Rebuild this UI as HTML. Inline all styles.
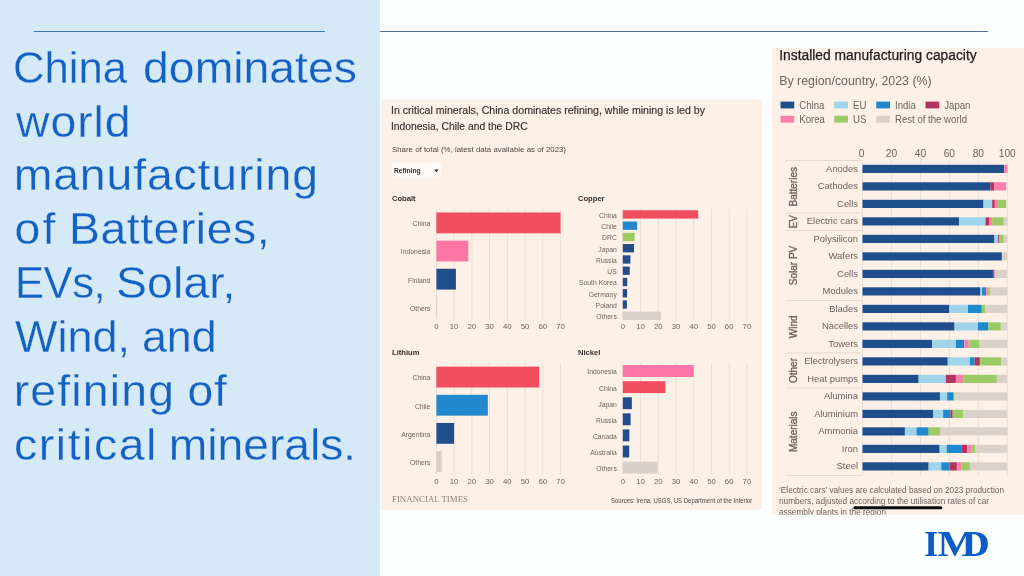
<!DOCTYPE html>
<html lang="en"><head><meta charset="utf-8"><title>China dominates world manufacturing</title>
<style>html,body{margin:0;padding:0;background:#fbfeff;}body{width:1024px;height:576px;overflow:hidden;}svg{display:block;font-family:"Liberation Sans", sans-serif;}.t{fill:#1361c3;font-size:45px;stroke:#d6e9f7;stroke-width:0.3px;}.g{fill:#6b6460;}.d{fill:#33302e;}</style></head><body>
<svg width="1024" height="576" viewBox="0 0 1024 576">
<rect x="0" y="0" width="1024" height="576" fill="#fbfeff"/>
<rect x="0" y="0" width="380" height="576" fill="#d6e9f7"/>
<rect x="34" y="31" width="291" height="1" fill="#3b79b9"/>
<rect x="380" y="31" width="608" height="1" fill="#4f7296"/>
<text class="t" transform="translate(13.06 82.75) scale(0.9704 1)" letter-spacing="0.000">China</text>
<text class="t" transform="translate(143.07 82.75) scale(1.0300 1)" letter-spacing="0.015">dominates</text>
<text class="t" transform="translate(16.03 136.61) scale(1.0300 1)" letter-spacing="0.946">world</text>
<text class="t" transform="translate(13.69 190.47) scale(1.0300 1)" letter-spacing="0.864">manufacturing</text>
<text class="t" transform="translate(14.57 244.33) scale(1.0300 1)" letter-spacing="2.099">of</text>
<text class="t" transform="translate(69.11 244.33) scale(1.0300 1)" letter-spacing="0.508">Batteries,</text>
<text class="t" transform="translate(14.89 298.19) scale(0.9700 1)" letter-spacing="-0.506">EVs,</text>
<text class="t" transform="translate(116.04 298.19) scale(1.0300 1)" letter-spacing="0.145">Solar,</text>
<text class="t" transform="translate(15.00 352.05) scale(1.0007 1)" letter-spacing="0.000">Wind,</text>
<text class="t" transform="translate(141.90 352.05) scale(0.9965 1)" letter-spacing="0.000">and</text>
<text class="t" transform="translate(13.69 405.91) scale(1.0300 1)" letter-spacing="1.162">refining</text>
<text class="t" transform="translate(187.47 405.91) scale(1.0300 1)" letter-spacing="0.837">of</text>
<text class="t" transform="translate(13.97 459.77) scale(1.0300 1)" letter-spacing="1.551">critical</text>
<text class="t" transform="translate(168.85 459.77) scale(1.0257 1)" letter-spacing="0.000">minerals.</text>
<rect x="381.3" y="99.5" width="380.7" height="410.4" fill="#fdf0e6"/>
<text class="d" stroke="#33302e" stroke-width="0.15" x="391" y="113.8" font-size="10.6" textLength="314" lengthAdjust="spacingAndGlyphs">In critical minerals, China dominates refining, while mining is led by</text>
<text class="d" stroke="#33302e" stroke-width="0.15" x="391" y="130.0" font-size="10.6" textLength="136.6" lengthAdjust="spacingAndGlyphs">Indonesia, Chile and the DRC</text>
<text x="392" y="151.9" fill="#4d4844" font-size="7.6" textLength="174" lengthAdjust="spacingAndGlyphs">Share of total (%, latest data available as of 2023)</text>
<rect x="392" y="163.2" width="49.2" height="15" fill="#fffaf6"/>
<text class="d" x="394" y="173.2" font-size="7" font-weight="bold" textLength="26.5" lengthAdjust="spacingAndGlyphs">Refining</text>
<path d="M434.2 169.6h4.4l-2.2 2.6z" fill="#262321"/>
<text class="d" x="392.0" y="200.5" font-size="7.6" font-weight="bold">Cobalt</text>
<rect x="436.05" y="208.80" width="0.7" height="111.60" fill="#e2d8d0"/>
<text class="g" x="436.40" y="329.30" font-size="7.8" text-anchor="middle">0</text>
<rect x="453.78" y="208.80" width="0.7" height="111.60" fill="#e2d8d0"/>
<text class="g" x="454.13" y="329.30" font-size="7.8" text-anchor="middle">10</text>
<rect x="471.52" y="208.80" width="0.7" height="111.60" fill="#e2d8d0"/>
<text class="g" x="471.87" y="329.30" font-size="7.8" text-anchor="middle">20</text>
<rect x="489.25" y="208.80" width="0.7" height="111.60" fill="#e2d8d0"/>
<text class="g" x="489.60" y="329.30" font-size="7.8" text-anchor="middle">30</text>
<rect x="506.99" y="208.80" width="0.7" height="111.60" fill="#e2d8d0"/>
<text class="g" x="507.34" y="329.30" font-size="7.8" text-anchor="middle">40</text>
<rect x="524.72" y="208.80" width="0.7" height="111.60" fill="#e2d8d0"/>
<text class="g" x="525.07" y="329.30" font-size="7.8" text-anchor="middle">50</text>
<rect x="542.46" y="208.80" width="0.7" height="111.60" fill="#e2d8d0"/>
<text class="g" x="542.81" y="329.30" font-size="7.8" text-anchor="middle">60</text>
<rect x="560.19" y="208.80" width="0.7" height="111.60" fill="#e2d8d0"/>
<text class="g" x="560.54" y="329.30" font-size="7.8" text-anchor="middle">70</text>
<rect x="436.40" y="212.46" width="124.15" height="20.83" fill="#f04e5e"/>
<text class="g" transform="translate(430.40 226.28) scale(0.92 1)" font-size="7.4" text-anchor="end">China</text>
<rect x="436.40" y="240.61" width="31.92" height="20.83" fill="#fb76a4"/>
<text class="g" transform="translate(430.40 254.43) scale(0.92 1)" font-size="7.4" text-anchor="end">Indonesia</text>
<rect x="436.40" y="268.76" width="19.51" height="20.83" fill="#1f4e8a"/>
<text class="g" transform="translate(430.40 282.57) scale(0.92 1)" font-size="7.4" text-anchor="end">Finland</text>
<rect x="436.40" y="296.91" width="0.89" height="20.83" fill="#d9d0c9"/>
<text class="g" transform="translate(430.40 310.72) scale(0.92 1)" font-size="7.4" text-anchor="end">Others</text>
<text class="d" x="578.0" y="200.5" font-size="7.6" font-weight="bold">Copper</text>
<rect x="622.45" y="208.80" width="0.7" height="111.60" fill="#e2d8d0"/>
<text class="g" x="622.80" y="329.30" font-size="7.8" text-anchor="middle">0</text>
<rect x="640.18" y="208.80" width="0.7" height="111.60" fill="#e2d8d0"/>
<text class="g" x="640.53" y="329.30" font-size="7.8" text-anchor="middle">10</text>
<rect x="657.92" y="208.80" width="0.7" height="111.60" fill="#e2d8d0"/>
<text class="g" x="658.27" y="329.30" font-size="7.8" text-anchor="middle">20</text>
<rect x="675.65" y="208.80" width="0.7" height="111.60" fill="#e2d8d0"/>
<text class="g" x="676.00" y="329.30" font-size="7.8" text-anchor="middle">30</text>
<rect x="693.39" y="208.80" width="0.7" height="111.60" fill="#e2d8d0"/>
<text class="g" x="693.74" y="329.30" font-size="7.8" text-anchor="middle">40</text>
<rect x="711.12" y="208.80" width="0.7" height="111.60" fill="#e2d8d0"/>
<text class="g" x="711.47" y="329.30" font-size="7.8" text-anchor="middle">50</text>
<rect x="728.86" y="208.80" width="0.7" height="111.60" fill="#e2d8d0"/>
<text class="g" x="729.21" y="329.30" font-size="7.8" text-anchor="middle">60</text>
<rect x="746.59" y="208.80" width="0.7" height="111.60" fill="#e2d8d0"/>
<text class="g" x="746.94" y="329.30" font-size="7.8" text-anchor="middle">70</text>
<rect x="622.80" y="210.26" width="75.37" height="8.33" fill="#f04e5e"/>
<text class="g" transform="translate(616.80 217.83) scale(0.92 1)" font-size="7.4" text-anchor="end">China</text>
<rect x="622.80" y="221.52" width="14.37" height="8.33" fill="#2389cf"/>
<text class="g" transform="translate(616.80 229.09) scale(0.92 1)" font-size="7.4" text-anchor="end">Chile</text>
<rect x="622.80" y="232.78" width="11.88" height="8.33" fill="#9ccb66"/>
<text class="g" transform="translate(616.80 240.35) scale(0.92 1)" font-size="7.4" text-anchor="end">DRC</text>
<rect x="622.80" y="244.04" width="11.17" height="8.33" fill="#1f4e8a"/>
<text class="g" transform="translate(616.80 251.61) scale(0.92 1)" font-size="7.4" text-anchor="end">Japan</text>
<rect x="622.80" y="255.30" width="7.63" height="8.33" fill="#1f4e8a"/>
<text class="g" transform="translate(616.80 262.87) scale(0.92 1)" font-size="7.4" text-anchor="end">Russia</text>
<rect x="622.80" y="266.56" width="6.92" height="8.33" fill="#1f4e8a"/>
<text class="g" transform="translate(616.80 274.13) scale(0.92 1)" font-size="7.4" text-anchor="end">US</text>
<rect x="622.80" y="277.82" width="4.43" height="8.33" fill="#1f4e8a"/>
<text class="g" transform="translate(616.80 285.39) scale(0.92 1)" font-size="7.4" text-anchor="end">South Korea</text>
<rect x="622.80" y="289.08" width="4.26" height="8.33" fill="#1f4e8a"/>
<text class="g" transform="translate(616.80 296.65) scale(0.92 1)" font-size="7.4" text-anchor="end">Germany</text>
<rect x="622.80" y="300.34" width="4.08" height="8.33" fill="#1f4e8a"/>
<text class="g" transform="translate(616.80 307.91) scale(0.92 1)" font-size="7.4" text-anchor="end">Poland</text>
<rect x="622.80" y="311.60" width="38.13" height="8.33" fill="#d9d0c9"/>
<text class="g" transform="translate(616.80 319.17) scale(0.92 1)" font-size="7.4" text-anchor="end">Others</text>
<text class="d" x="392.0" y="355.0" font-size="7.6" font-weight="bold">Lithium</text>
<rect x="436.05" y="363.00" width="0.7" height="111.60" fill="#e2d8d0"/>
<text class="g" x="436.40" y="483.50" font-size="7.8" text-anchor="middle">0</text>
<rect x="453.78" y="363.00" width="0.7" height="111.60" fill="#e2d8d0"/>
<text class="g" x="454.13" y="483.50" font-size="7.8" text-anchor="middle">10</text>
<rect x="471.52" y="363.00" width="0.7" height="111.60" fill="#e2d8d0"/>
<text class="g" x="471.87" y="483.50" font-size="7.8" text-anchor="middle">20</text>
<rect x="489.25" y="363.00" width="0.7" height="111.60" fill="#e2d8d0"/>
<text class="g" x="489.60" y="483.50" font-size="7.8" text-anchor="middle">30</text>
<rect x="506.99" y="363.00" width="0.7" height="111.60" fill="#e2d8d0"/>
<text class="g" x="507.34" y="483.50" font-size="7.8" text-anchor="middle">40</text>
<rect x="524.72" y="363.00" width="0.7" height="111.60" fill="#e2d8d0"/>
<text class="g" x="525.07" y="483.50" font-size="7.8" text-anchor="middle">50</text>
<rect x="542.46" y="363.00" width="0.7" height="111.60" fill="#e2d8d0"/>
<text class="g" x="542.81" y="483.50" font-size="7.8" text-anchor="middle">60</text>
<rect x="560.19" y="363.00" width="0.7" height="111.60" fill="#e2d8d0"/>
<text class="g" x="560.54" y="483.50" font-size="7.8" text-anchor="middle">70</text>
<rect x="436.40" y="366.66" width="102.86" height="20.83" fill="#f04e5e"/>
<text class="g" transform="translate(430.40 380.47) scale(0.92 1)" font-size="7.4" text-anchor="end">China</text>
<rect x="436.40" y="394.81" width="51.43" height="20.83" fill="#2389cf"/>
<text class="g" transform="translate(430.40 408.62) scale(0.92 1)" font-size="7.4" text-anchor="end">Chile</text>
<rect x="436.40" y="422.96" width="17.73" height="20.83" fill="#1f4e8a"/>
<text class="g" transform="translate(430.40 436.77) scale(0.92 1)" font-size="7.4" text-anchor="end">Argentina</text>
<rect x="436.40" y="451.11" width="5.32" height="20.83" fill="#d9d0c9"/>
<text class="g" transform="translate(430.40 464.92) scale(0.92 1)" font-size="7.4" text-anchor="end">Others</text>
<text class="d" x="578.0" y="355.0" font-size="7.6" font-weight="bold">Nickel</text>
<rect x="622.45" y="363.00" width="0.7" height="111.60" fill="#e2d8d0"/>
<text class="g" x="622.80" y="483.50" font-size="7.8" text-anchor="middle">0</text>
<rect x="640.18" y="363.00" width="0.7" height="111.60" fill="#e2d8d0"/>
<text class="g" x="640.53" y="483.50" font-size="7.8" text-anchor="middle">10</text>
<rect x="657.92" y="363.00" width="0.7" height="111.60" fill="#e2d8d0"/>
<text class="g" x="658.27" y="483.50" font-size="7.8" text-anchor="middle">20</text>
<rect x="675.65" y="363.00" width="0.7" height="111.60" fill="#e2d8d0"/>
<text class="g" x="676.00" y="483.50" font-size="7.8" text-anchor="middle">30</text>
<rect x="693.39" y="363.00" width="0.7" height="111.60" fill="#e2d8d0"/>
<text class="g" x="693.74" y="483.50" font-size="7.8" text-anchor="middle">40</text>
<rect x="711.12" y="363.00" width="0.7" height="111.60" fill="#e2d8d0"/>
<text class="g" x="711.47" y="483.50" font-size="7.8" text-anchor="middle">50</text>
<rect x="728.86" y="363.00" width="0.7" height="111.60" fill="#e2d8d0"/>
<text class="g" x="729.21" y="483.50" font-size="7.8" text-anchor="middle">60</text>
<rect x="746.59" y="363.00" width="0.7" height="111.60" fill="#e2d8d0"/>
<text class="g" x="746.94" y="483.50" font-size="7.8" text-anchor="middle">70</text>
<rect x="622.80" y="365.09" width="70.94" height="11.90" fill="#fb76a4"/>
<text class="g" transform="translate(616.80 374.44) scale(0.92 1)" font-size="7.4" text-anchor="end">Indonesia</text>
<rect x="622.80" y="381.18" width="42.56" height="11.90" fill="#f04e5e"/>
<text class="g" transform="translate(616.80 390.53) scale(0.92 1)" font-size="7.4" text-anchor="end">China</text>
<rect x="622.80" y="397.26" width="9.04" height="11.90" fill="#1f4e8a"/>
<text class="g" transform="translate(616.80 406.61) scale(0.92 1)" font-size="7.4" text-anchor="end">Japan</text>
<rect x="622.80" y="413.35" width="7.80" height="11.90" fill="#1f4e8a"/>
<text class="g" transform="translate(616.80 422.70) scale(0.92 1)" font-size="7.4" text-anchor="end">Russia</text>
<rect x="622.80" y="429.43" width="6.56" height="11.90" fill="#1f4e8a"/>
<text class="g" transform="translate(616.80 438.79) scale(0.92 1)" font-size="7.4" text-anchor="end">Canada</text>
<rect x="622.80" y="445.52" width="6.38" height="11.90" fill="#1f4e8a"/>
<text class="g" transform="translate(616.80 454.87) scale(0.92 1)" font-size="7.4" text-anchor="end">Australia</text>
<rect x="622.80" y="461.61" width="34.76" height="11.90" fill="#d9d0c9"/>
<text class="g" transform="translate(616.80 470.96) scale(0.92 1)" font-size="7.4" text-anchor="end">Others</text>
<text x="392" y="502" font-size="8.6" fill="#8a817b" style="font-family:'Liberation Serif', serif" textLength="76" lengthAdjust="spacingAndGlyphs">FINANCIAL TIMES</text>
<text fill="#4d4844" x="611" y="502.5" font-size="6.4" textLength="141.2" lengthAdjust="spacingAndGlyphs">Sources: Irena, USGS, US Department of the Interior</text>
<rect x="772" y="48" width="252" height="466.8" fill="#fdf0e6"/>
<text x="779.2" y="59.8" font-size="14" fill="#1f1c1a" textLength="197.5" lengthAdjust="spacingAndGlyphs" stroke="#1f1c1a" stroke-width="0.25">Installed manufacturing capacity</text>
<text class="g" x="779.2" y="85.2" font-size="13.5" textLength="152.5" lengthAdjust="spacingAndGlyphs">By region/country, 2023 (%)</text>
<rect x="780.50" y="101.60" width="13.75" height="6.8" fill="#1e4f8c"/>
<text class="g" transform="translate(799.25 108.70) scale(0.96 1)" font-size="10">China</text>
<rect x="834.25" y="101.60" width="13.75" height="6.8" fill="#9fd4ea"/>
<text class="g" transform="translate(853.00 108.70) scale(0.96 1)" font-size="10">EU</text>
<rect x="876.25" y="101.60" width="13.75" height="6.8" fill="#2088cc"/>
<text class="g" transform="translate(895.00 108.70) scale(0.96 1)" font-size="10">India</text>
<rect x="925.50" y="101.60" width="13.75" height="6.8" fill="#b3325f"/>
<text class="g" transform="translate(944.25 108.70) scale(0.96 1)" font-size="10">Japan</text>
<rect x="780.50" y="115.80" width="13.75" height="6.8" fill="#ff7fab"/>
<text class="g" transform="translate(799.25 122.90) scale(0.96 1)" font-size="10">Korea</text>
<rect x="834.25" y="115.80" width="13.75" height="6.8" fill="#9ccb66"/>
<text class="g" transform="translate(853.00 122.90) scale(0.96 1)" font-size="10">US</text>
<rect x="876.25" y="115.80" width="13.75" height="6.8" fill="#d9d1ca"/>
<text class="g" transform="translate(895.00 122.90) scale(0.96 1)" font-size="10">Rest of the world</text>
<rect x="862.10" y="160.5" width="0.8" height="315" fill="#e6dcd4"/>
<text class="g" x="861.70" y="156.8" font-size="10.2" text-anchor="middle">0</text>
<rect x="891.05" y="160.5" width="0.8" height="315" fill="#e6dcd4"/>
<text class="g" x="891.45" y="156.8" font-size="10.2" text-anchor="middle">20</text>
<rect x="920.00" y="160.5" width="0.8" height="315" fill="#e6dcd4"/>
<text class="g" x="920.40" y="156.8" font-size="10.2" text-anchor="middle">40</text>
<rect x="948.95" y="160.5" width="0.8" height="315" fill="#e6dcd4"/>
<text class="g" x="949.35" y="156.8" font-size="10.2" text-anchor="middle">60</text>
<rect x="977.90" y="160.5" width="0.8" height="315" fill="#e6dcd4"/>
<text class="g" x="978.30" y="156.8" font-size="10.2" text-anchor="middle">80</text>
<rect x="1006.85" y="160.5" width="0.8" height="315" fill="#e6dcd4"/>
<text class="g" x="1007.25" y="156.8" font-size="10.2" text-anchor="middle">100</text>
<rect x="862.50" y="164.80" width="141.71" height="8.2" fill="#1e4f8c"/>
<rect x="1004.21" y="164.80" width="3.04" height="8.2" fill="#ff7fab"/>
<text class="g" transform="translate(858 171.70) scale(0.96 1)" font-size="9.8" text-anchor="end">Anodes</text>
<rect x="862.50" y="182.30" width="127.96" height="8.2" fill="#1e4f8c"/>
<rect x="990.46" y="182.30" width="3.76" height="8.2" fill="#b3325f"/>
<rect x="994.22" y="182.30" width="12.01" height="8.2" fill="#ff7fab"/>
<text class="g" transform="translate(858 189.20) scale(0.96 1)" font-size="9.8" text-anchor="end">Cathodes</text>
<rect x="862.50" y="199.80" width="121.01" height="8.2" fill="#1e4f8c"/>
<rect x="983.51" y="199.80" width="8.69" height="8.2" fill="#9fd4ea"/>
<rect x="992.20" y="199.80" width="2.61" height="8.2" fill="#b3325f"/>
<rect x="994.80" y="199.80" width="3.18" height="8.2" fill="#ff7fab"/>
<rect x="997.99" y="199.80" width="8.25" height="8.2" fill="#9ccb66"/>
<text class="g" transform="translate(858 206.70) scale(0.96 1)" font-size="9.8" text-anchor="end">Cells</text>
<rect x="862.50" y="217.30" width="96.69" height="8.2" fill="#1e4f8c"/>
<rect x="959.19" y="217.30" width="26.34" height="8.2" fill="#9fd4ea"/>
<rect x="985.54" y="217.30" width="3.47" height="8.2" fill="#b3325f"/>
<rect x="989.01" y="217.30" width="3.18" height="8.2" fill="#ff7fab"/>
<rect x="992.20" y="217.30" width="11.58" height="8.2" fill="#9ccb66"/>
<rect x="1003.78" y="217.30" width="3.47" height="8.2" fill="#d9d1ca"/>
<text class="g" transform="translate(858 224.20) scale(0.96 1)" font-size="9.8" text-anchor="end">Electric cars</text>
<rect x="862.50" y="234.80" width="132.01" height="8.2" fill="#1e4f8c"/>
<rect x="994.51" y="234.80" width="3.62" height="8.2" fill="#9fd4ea"/>
<rect x="998.13" y="234.80" width="0.87" height="8.2" fill="#b3325f"/>
<rect x="999.00" y="234.80" width="4.78" height="8.2" fill="#9ccb66"/>
<rect x="1003.78" y="234.80" width="3.47" height="8.2" fill="#d9d1ca"/>
<text class="g" transform="translate(858 241.70) scale(0.96 1)" font-size="9.8" text-anchor="end">Polysilicon</text>
<rect x="862.50" y="252.30" width="139.39" height="8.2" fill="#1e4f8c"/>
<rect x="1001.89" y="252.30" width="5.36" height="8.2" fill="#d9d1ca"/>
<text class="g" transform="translate(858 259.20) scale(0.96 1)" font-size="9.8" text-anchor="end">Wafers</text>
<rect x="862.50" y="269.80" width="130.42" height="8.2" fill="#1e4f8c"/>
<rect x="992.92" y="269.80" width="1.30" height="8.2" fill="#2088cc"/>
<rect x="994.22" y="269.80" width="0.87" height="8.2" fill="#ff7fab"/>
<rect x="995.09" y="269.80" width="12.16" height="8.2" fill="#d9d1ca"/>
<text class="g" transform="translate(858 276.70) scale(0.96 1)" font-size="9.8" text-anchor="end">Cells</text>
<rect x="862.50" y="287.30" width="117.97" height="8.2" fill="#1e4f8c"/>
<rect x="980.47" y="287.30" width="1.59" height="8.2" fill="#9fd4ea"/>
<rect x="982.06" y="287.30" width="3.91" height="8.2" fill="#2088cc"/>
<rect x="985.97" y="287.30" width="1.01" height="8.2" fill="#ff7fab"/>
<rect x="986.99" y="287.30" width="2.90" height="8.2" fill="#9ccb66"/>
<rect x="989.88" y="287.30" width="17.37" height="8.2" fill="#d9d1ca"/>
<text class="g" transform="translate(858 294.20) scale(0.96 1)" font-size="9.8" text-anchor="end">Modules</text>
<rect x="862.50" y="304.80" width="86.85" height="8.2" fill="#1e4f8c"/>
<rect x="949.35" y="304.80" width="18.67" height="8.2" fill="#9fd4ea"/>
<rect x="968.02" y="304.80" width="13.75" height="8.2" fill="#2088cc"/>
<rect x="981.77" y="304.80" width="3.47" height="8.2" fill="#9ccb66"/>
<rect x="985.25" y="304.80" width="22.00" height="8.2" fill="#d9d1ca"/>
<text class="g" transform="translate(858 311.70) scale(0.96 1)" font-size="9.8" text-anchor="end">Blades</text>
<rect x="862.50" y="322.30" width="92.06" height="8.2" fill="#1e4f8c"/>
<rect x="954.56" y="322.30" width="23.45" height="8.2" fill="#9fd4ea"/>
<rect x="978.01" y="322.30" width="10.42" height="8.2" fill="#2088cc"/>
<rect x="988.43" y="322.30" width="12.45" height="8.2" fill="#9ccb66"/>
<rect x="1000.88" y="322.30" width="6.37" height="8.2" fill="#d9d1ca"/>
<text class="g" transform="translate(858 329.20) scale(0.96 1)" font-size="9.8" text-anchor="end">Nacelles</text>
<rect x="862.50" y="339.80" width="69.62" height="8.2" fill="#1e4f8c"/>
<rect x="932.12" y="339.80" width="23.74" height="8.2" fill="#9fd4ea"/>
<rect x="955.86" y="339.80" width="8.40" height="8.2" fill="#2088cc"/>
<rect x="964.26" y="339.80" width="4.49" height="8.2" fill="#ff7fab"/>
<rect x="968.75" y="339.80" width="10.28" height="8.2" fill="#9ccb66"/>
<rect x="979.02" y="339.80" width="28.23" height="8.2" fill="#d9d1ca"/>
<text class="g" transform="translate(858 346.70) scale(0.96 1)" font-size="9.8" text-anchor="end">Towers</text>
<rect x="862.50" y="357.30" width="85.26" height="8.2" fill="#1e4f8c"/>
<rect x="947.76" y="357.30" width="22.15" height="8.2" fill="#9fd4ea"/>
<rect x="969.90" y="357.30" width="4.78" height="8.2" fill="#2088cc"/>
<rect x="974.68" y="357.30" width="5.21" height="8.2" fill="#b3325f"/>
<rect x="979.89" y="357.30" width="21.57" height="8.2" fill="#9ccb66"/>
<rect x="1001.46" y="357.30" width="5.79" height="8.2" fill="#d9d1ca"/>
<text class="g" transform="translate(858 364.20) scale(0.96 1)" font-size="9.8" text-anchor="end">Electrolysers</text>
<rect x="862.50" y="374.80" width="56.16" height="8.2" fill="#1e4f8c"/>
<rect x="918.66" y="374.80" width="27.21" height="8.2" fill="#9fd4ea"/>
<rect x="945.88" y="374.80" width="9.99" height="8.2" fill="#b3325f"/>
<rect x="955.86" y="374.80" width="7.24" height="8.2" fill="#ff7fab"/>
<rect x="963.10" y="374.80" width="33.73" height="8.2" fill="#9ccb66"/>
<rect x="996.83" y="374.80" width="10.42" height="8.2" fill="#d9d1ca"/>
<text class="g" transform="translate(858 381.70) scale(0.96 1)" font-size="9.8" text-anchor="end">Heat pumps</text>
<rect x="862.50" y="392.30" width="77.44" height="8.2" fill="#1e4f8c"/>
<rect x="939.94" y="392.30" width="7.24" height="8.2" fill="#9fd4ea"/>
<rect x="947.18" y="392.30" width="6.51" height="8.2" fill="#2088cc"/>
<rect x="953.69" y="392.30" width="0.87" height="8.2" fill="#9ccb66"/>
<rect x="954.56" y="392.30" width="52.69" height="8.2" fill="#d9d1ca"/>
<text class="g" transform="translate(858 399.20) scale(0.96 1)" font-size="9.8" text-anchor="end">Alumina</text>
<rect x="862.50" y="409.80" width="70.93" height="8.2" fill="#1e4f8c"/>
<rect x="933.43" y="409.80" width="9.70" height="8.2" fill="#9fd4ea"/>
<rect x="943.13" y="409.80" width="7.38" height="8.2" fill="#2088cc"/>
<rect x="950.51" y="409.80" width="2.17" height="8.2" fill="#b3325f"/>
<rect x="952.68" y="409.80" width="10.71" height="8.2" fill="#9ccb66"/>
<rect x="963.39" y="409.80" width="43.86" height="8.2" fill="#d9d1ca"/>
<text class="g" transform="translate(858 416.70) scale(0.96 1)" font-size="9.8" text-anchor="end">Aluminium</text>
<rect x="862.50" y="427.30" width="42.41" height="8.2" fill="#1e4f8c"/>
<rect x="904.91" y="427.30" width="11.58" height="8.2" fill="#9fd4ea"/>
<rect x="916.49" y="427.30" width="12.16" height="8.2" fill="#2088cc"/>
<rect x="928.65" y="427.30" width="11.29" height="8.2" fill="#9ccb66"/>
<rect x="939.94" y="427.30" width="67.31" height="8.2" fill="#d9d1ca"/>
<text class="g" transform="translate(858 434.20) scale(0.96 1)" font-size="9.8" text-anchor="end">Ammonia</text>
<rect x="862.50" y="444.80" width="77.15" height="8.2" fill="#1e4f8c"/>
<rect x="939.65" y="444.80" width="7.09" height="8.2" fill="#9fd4ea"/>
<rect x="946.74" y="444.80" width="14.47" height="8.2" fill="#2088cc"/>
<rect x="961.22" y="444.80" width="5.93" height="8.2" fill="#b3325f"/>
<rect x="967.15" y="444.80" width="4.34" height="8.2" fill="#ff7fab"/>
<rect x="971.50" y="444.80" width="3.47" height="8.2" fill="#9ccb66"/>
<rect x="974.97" y="444.80" width="32.28" height="8.2" fill="#d9d1ca"/>
<text class="g" transform="translate(858 451.70) scale(0.96 1)" font-size="9.8" text-anchor="end">Iron</text>
<rect x="862.50" y="462.30" width="66.15" height="8.2" fill="#1e4f8c"/>
<rect x="928.65" y="462.30" width="12.59" height="8.2" fill="#9fd4ea"/>
<rect x="941.24" y="462.30" width="8.40" height="8.2" fill="#2088cc"/>
<rect x="949.64" y="462.30" width="7.24" height="8.2" fill="#b3325f"/>
<rect x="956.88" y="462.30" width="4.63" height="8.2" fill="#ff7fab"/>
<rect x="961.51" y="462.30" width="8.40" height="8.2" fill="#9ccb66"/>
<rect x="969.90" y="462.30" width="37.35" height="8.2" fill="#d9d1ca"/>
<text class="g" transform="translate(858 469.20) scale(0.96 1)" font-size="9.8" text-anchor="end">Steel</text>
<rect x="785.5" y="160.10" width="77" height="0.8" fill="#ddd3cb"/>
<text class="g" transform="translate(796.6 186.75) rotate(-90)" font-size="10" text-anchor="middle" stroke="#6b6460" stroke-width="0.35">Batteries</text>
<rect x="785.5" y="212.60" width="77" height="0.8" fill="#ddd3cb"/>
<text class="g" transform="translate(796.6 221.75) rotate(-90)" font-size="10" text-anchor="middle" stroke="#6b6460" stroke-width="0.35">EV</text>
<rect x="785.5" y="230.10" width="77" height="0.8" fill="#ddd3cb"/>
<text class="g" transform="translate(796.6 265.50) rotate(-90)" font-size="10" text-anchor="middle" stroke="#6b6460" stroke-width="0.35">Solar PV</text>
<rect x="785.5" y="300.10" width="77" height="0.8" fill="#ddd3cb"/>
<text class="g" transform="translate(796.6 326.75) rotate(-90)" font-size="10" text-anchor="middle" stroke="#6b6460" stroke-width="0.35">Wind</text>
<rect x="785.5" y="352.60" width="77" height="0.8" fill="#ddd3cb"/>
<text class="g" transform="translate(796.6 370.50) rotate(-90)" font-size="10" text-anchor="middle" stroke="#6b6460" stroke-width="0.35">Other</text>
<rect x="785.5" y="387.60" width="77" height="0.8" fill="#ddd3cb"/>
<text class="g" transform="translate(796.6 431.75) rotate(-90)" font-size="10" text-anchor="middle" stroke="#6b6460" stroke-width="0.35">Materials</text>
<rect x="785.5" y="475.10" width="77" height="0.8" fill="#ddd3cb"/>
<clipPath id="cp"><rect x="772" y="48" width="252" height="466.8"/></clipPath>
<g clip-path="url(#cp)">
<text class="g" x="779" y="493.00" font-size="8.6" textLength="225" lengthAdjust="spacingAndGlyphs">‘Electric cars’ values are calculated based on 2023 production</text>
<text class="g" x="779" y="503.80" font-size="8.6" textLength="210" lengthAdjust="spacingAndGlyphs">numbers, adjusted according to the utilisation rates of car</text>
<text class="g" x="779" y="514.60" font-size="8.6" textLength="107" lengthAdjust="spacingAndGlyphs">assembly plants in the region</text>
</g>
<rect x="853.4" y="506.2" width="89" height="3" rx="1.5" fill="#0a0a0a"/>
<clipPath id="dc"><rect x="970.6" y="525" width="30" height="40"/></clipPath>
<g font-size="36.6" font-weight="bold" fill="#0b5cc5" style="font-family:'Liberation Serif', serif">
<text x="923.9" y="556">I</text>
<text transform="translate(937.6 556) scale(1.14 1)">M</text>
<g clip-path="url(#dc)"><text transform="translate(959.0 556) scale(1.17 1)">D</text></g>
</g>
</svg></body></html>
